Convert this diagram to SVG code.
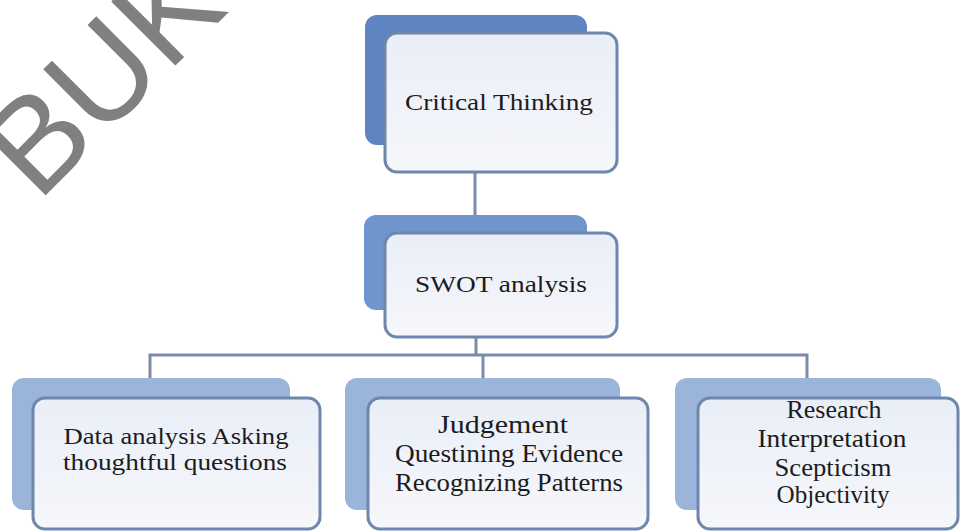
<svg xmlns="http://www.w3.org/2000/svg" width="960" height="531" viewBox="0 0 960 531">
  <defs>
    <linearGradient id="frontFill" x1="0" y1="0" x2="0" y2="1">
      <stop offset="0" stop-color="#e9eef7"/>
      <stop offset="1" stop-color="#f6f7fb"/>
    </linearGradient>
    <style>
      .front { fill: url(#frontFill); stroke: #6f86ad; stroke-width: 3; }
      .back1 { fill: #5f84c2; }
      .back2 { fill: #7095cc; }
      .back3 { fill: #9ab4da; }
      .conn { fill: none; stroke: #7a8bab; stroke-width: 3; }
      .lbl { font-family: "Liberation Serif", "Times New Roman", serif; fill: #1c1c1c; text-anchor: middle; }
      .wm { font-family: "Liberation Sans", Arial, sans-serif; fill: #808080; }
    </style>
  </defs>
  <rect width="960" height="531" fill="#ffffff"/>

  <text class="wm" font-size="132" transform="translate(38,203) rotate(-45)">BUK</text>

  <g id="connectors">
    <path class="conn" d="M475 172 V233"/>
    <path class="conn" d="M476 337 V355"/>
    <path class="conn" d="M150 378 V355 H807 V378"/>
    <path class="conn" d="M483 355 V378"/>
  </g>

  <g id="critical-thinking">
    <rect class="back1" x="365" y="15" width="222" height="130" rx="12"/>
    <rect class="front" x="385" y="33" width="232" height="139" rx="12"/>
    <text class="lbl" x="499" y="110" font-size="23" textLength="188" lengthAdjust="spacingAndGlyphs">Critical Thinking</text>
  </g>

  <g id="swot-analysis">
    <rect class="back2" x="364" y="215" width="223" height="95" rx="12"/>
    <rect class="front" x="385" y="233" width="232" height="104" rx="12"/>
    <text class="lbl" x="501" y="292" font-size="23" textLength="172" lengthAdjust="spacingAndGlyphs">SWOT analysis</text>
  </g>

  <g id="data-analysis">
    <rect class="back3" x="12" y="378" width="278" height="132" rx="12"/>
    <rect class="front" x="33" y="398" width="287" height="131" rx="12"/>
    <text class="lbl" x="176" y="444" font-size="24" textLength="225" lengthAdjust="spacingAndGlyphs">Data analysis Asking</text>
    <text class="lbl" x="175" y="470" font-size="24" textLength="224" lengthAdjust="spacingAndGlyphs">thoughtful questions</text>
  </g>

  <g id="judgement">
    <rect class="back3" x="345" y="378" width="275" height="132" rx="12"/>
    <rect class="front" x="368" y="398" width="280" height="131" rx="12"/>
    <text class="lbl" x="503" y="433" font-size="25" textLength="130" lengthAdjust="spacingAndGlyphs">Judgement</text>
    <text class="lbl" x="509" y="462" font-size="25" textLength="228" lengthAdjust="spacingAndGlyphs">Questining Evidence</text>
    <text class="lbl" x="509" y="491" font-size="25" textLength="228" lengthAdjust="spacingAndGlyphs">Recognizing Patterns</text>
  </g>

  <g id="research">
    <rect class="back3" x="675" y="378" width="266" height="132" rx="12"/>
    <rect class="front" x="698" y="398" width="260" height="131" rx="12"/>
    <text class="lbl" x="834" y="418" font-size="25" textLength="95" lengthAdjust="spacingAndGlyphs">Research</text>
    <text class="lbl" x="832" y="447" font-size="25" textLength="149" lengthAdjust="spacingAndGlyphs">Interpretation</text>
    <text class="lbl" x="833" y="476" font-size="25" textLength="117" lengthAdjust="spacingAndGlyphs">Scepticism</text>
    <text class="lbl" x="833" y="503" font-size="25" textLength="113" lengthAdjust="spacingAndGlyphs">Objectivity</text>
  </g>
</svg>
